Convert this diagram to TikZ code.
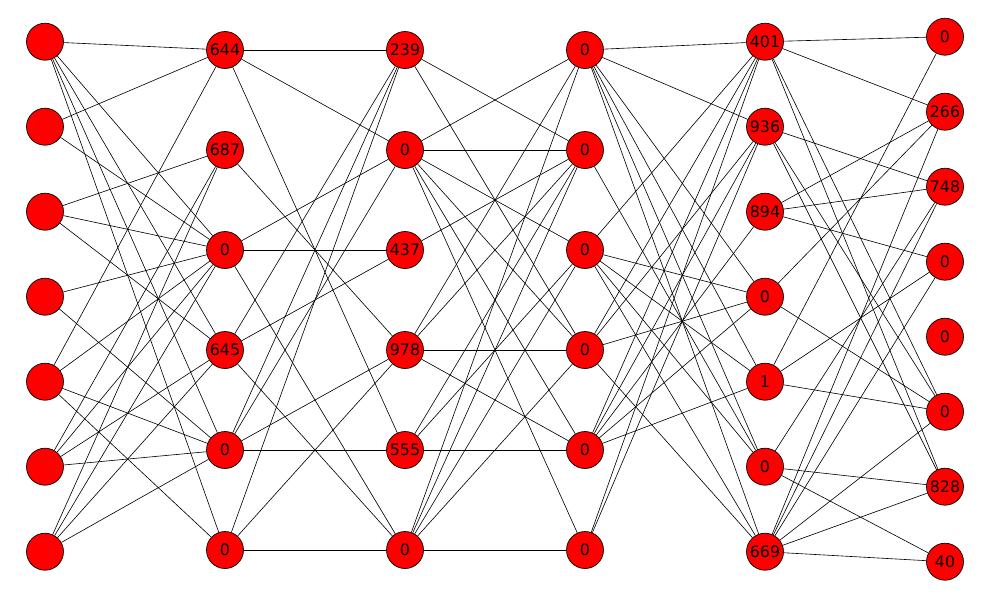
\documentclass[tikz,border=0pt]{standalone}
\usepackage{fontspec}
\setmainfont{DejaVu Sans}
\usetikzlibrary{backgrounds}

\tikzset{
  neuron/.style={circle, draw=black, line width=0.4pt, fill=red,
    minimum size=0.74cm, inner sep=0pt, font=\fontsize{9}{10}\selectfont},
  link/.style={draw=black, line width=0.35pt}
}

\begin{document}
\begin{tikzpicture}[x=0.02cm, y=-0.02cm]
  \useasboundingbox (0,0) rectangle (1000,600);

  % input layer
  \foreach \i in {0,...,6}
    \node[neuron] (A\i) at (45, 41.7+85*\i) {};
  % hidden layers
  \foreach \lab [count=\i from 0] in {644,687,0,645,0,0}
    \node[neuron] (B\i) at (225, 50+100*\i) {\lab};
  \foreach \lab [count=\i from 0] in {239,0,437,978,555,0}
    \node[neuron] (C\i) at (405, 50+100*\i) {\lab};
  \foreach \i in {0,...,5}
    \node[neuron] (D\i) at (585, 50+100*\i) {0};
  \foreach \lab [count=\i from 0] in {401,936,894,0,1,0,669}
    \node[neuron] (E\i) at (765, 41.7+85*\i) {\lab};
  % output layer
  \foreach \lab [count=\i from 0] in {0,266,748,0,0,0,828,40}
    \node[neuron] (F\i) at (945, 36.7+75*\i) {\lab};

  \begin{scope}[on background layer]
    % A -> B
    \foreach \s/\t in {0/0,0/2,0/3,0/4,0/5, 1/0,1/2, 2/1,2/2,2/3, 3/2,3/4,
        4/0,4/2,4/4,4/5, 5/1,5/2,5/3,5/4, 6/1,6/2,6/3,6/4}
      \draw[link] (A\s) -- (B\t);
    % B -> C
    \foreach \s/\t in {0/0,0/1,0/4, 1/3, 2/1,2/2,2/5, 3/0,3/2,3/5,
        4/0,4/1,4/3,4/4, 5/0,5/3,5/5}
      \draw[link] (B\s) -- (C\t);
    % C -> D
    \foreach \s/\t in {0/1,0/3, 1/0,1/1,1/2,1/3,1/4,1/5, 2/1,
        3/0,3/1,3/3,3/4, 4/1,4/2,4/4, 5/0,5/1,5/2,5/3,5/5}
      \draw[link] (C\s) -- (D\t);
    % D -> E
    \foreach \s/\t in {0/0,0/1,0/3,0/4,0/5,0/6, 1/5, 2/0,2/3,2/4,2/5,2/6,
        3/0,3/1,3/3,3/6, 4/0,4/1,4/2,4/3,4/4, 5/0,5/1}
      \draw[link] (D\s) -- (E\t);
    % E -> F
    \foreach \s/\t in {0/0,0/1,0/5,0/6, 1/2,1/5,1/6, 2/1,2/2,2/3, 3/1,3/5,
        4/0,4/3,4/5, 5/2,5/6,5/7, 6/1,6/2,6/3,6/5,6/6,6/7}
      \draw[link] (E\s) -- (F\t);
  \end{scope}
\end{tikzpicture}
\end{document}
